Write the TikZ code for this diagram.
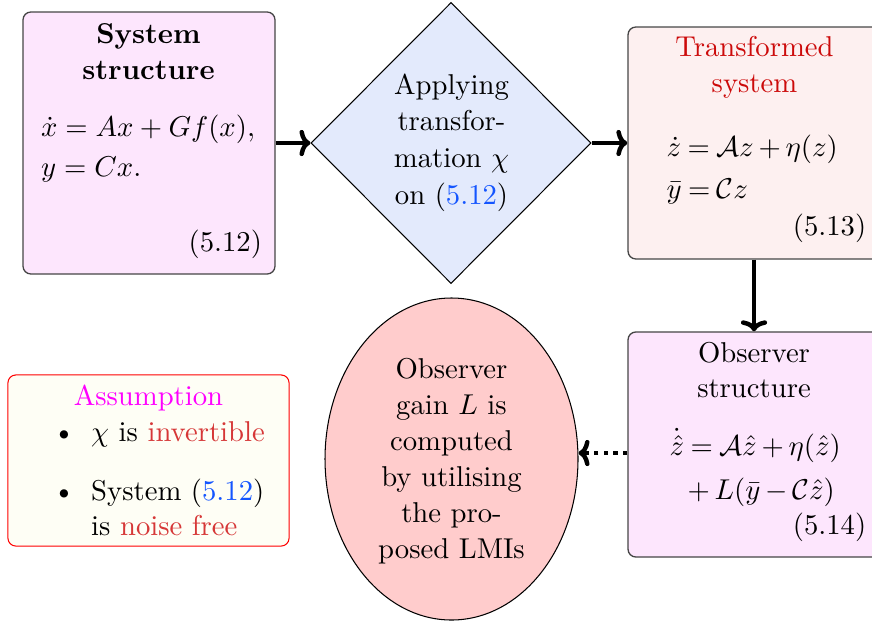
\documentclass[tikz,border=0pt]{standalone}
\usetikzlibrary{shapes.geometric,arrows.meta}
\definecolor{pinkfill}{RGB}{253,230,253}
\definecolor{rosefill}{RGB}{253,240,240}
\definecolor{bluefill}{RGB}{227,234,252}
\definecolor{ellfill}{RGB}{255,204,204}
\definecolor{ivoryfill}{RGB}{254,254,245}
\definecolor{boxline}{RGB}{70,70,70}
\definecolor{titlered}{RGB}{204,10,10}
\definecolor{softred}{RGB}{214,55,55}
\definecolor{linkblue}{RGB}{20,85,255}
\definecolor{assmag}{RGB}{255,0,255}
\newcommand\stk[2]{\begin{tabular}[t]{@{}#1@{}}#2\end{tabular}}
\newcommand\tightmath{\thickmuskip=4mu\relax\medmuskip=3mu\relax}
\begin{document}
\begin{tikzpicture}[x=0.38168pt,y=-0.38168pt,
  every node/.style={inner sep=0pt, font=\fontsize{10.95}{13.7}\selectfont},
  sysbox/.style={draw=boxline, rounded corners=3pt, minimum width=96.18pt, line width=0.5pt},
  lbl/.style={anchor=base},
  tighteq/.style={anchor=base west},
  arr/.style={-{To[length=4.2pt,width=10pt]}, line width=1.7pt}]
\useasboundingbox (0,0) rectangle (872,623);
% shapes
\node[sysbox, fill=pinkfill, minimum height=100pt] (sys) at (149,143) {};
\node[sysbox, fill=rosefill, minimum height=88.55pt] (trf) at (754,143) {};
\node[sysbox, fill=pinkfill, minimum height=85.9pt] (obs) at (754,444.5) {};
\node[diamond, draw, fill=bluefill, minimum width=106.9pt, minimum height=107.25pt, line width=0.4pt] (dia) at (451,143) {};
\node[ellipse, draw, fill=ellfill, minimum width=96.56pt, minimum height=122.9pt, line width=0.4pt] (ell) at (451.5,459) {};
\node[draw=red, fill=ivoryfill, rounded corners=3pt, minimum width=107.3pt, minimum height=65.3pt, line width=0.4pt] (ass) at (148.5,460.5) {};
% system structure
\node[lbl, font=\fontsize{10.95}{13.74}\selectfont\bfseries] (sysT) at (148.5,43) {\stk{c}{System\\structure}};
\node[anchor=base west] (sysE1) at (40.5,136) {$\dot{x} = Ax + Gf(x),$};
\node[anchor=base west] (sysE2) at (40.5,176.5) {$y = Cx.$};
\node[anchor=base east] (sysN) at (262.5,251) {(5.12)};
% diamond
\node[lbl, font=\fontsize{10.95}{14}\selectfont] (diaT) at (451.5,94) {\stk{c}{Applying\\transfor-\\mation $\chi$\\on (\textcolor{linkblue}{5.12})}};
% transformed system
\node[lbl, text=titlered, font=\fontsize{10.95}{14.1}\selectfont] (trfT) at (754.5,56) {\stk{c}{Transformed\\system}};
\node[tighteq] (trfE1) at (666,156) {\tightmath$\dot{z} = \mathcal{A}z + \eta(z)$};
\node[tighteq] (trfE2) at (666,198) {\tightmath$\bar{y} = \mathcal{C}z$};
\node[anchor=base east] (trfN) at (866.7,235.5) {(5.13)};
% observer structure
\node[lbl, font=\fontsize{10.95}{13.4}\selectfont] (obsT) at (754,362) {\stk{c}{Observer\\structure}};
\node[tighteq] (obsE1) at (669,455.5) {\tightmath$\dot{\hat{z}} = \mathcal{A}\hat{z} + \eta(\hat{z})$};
\node[tighteq] (obsE2) at (687,499.5) {\tightmath$+\mskip\medmuskip L(\bar{y} - \mathcal{C}\hat{z})$};
\node[anchor=base east] (obsN) at (866.7,534.5) {(5.14)};
% ellipse
\node[lbl, font=\fontsize{10.95}{13.74}\selectfont] (ellT) at (451.5,378) {\stk{c}{Observer\\gain $L$ is\\computed\\by utilising\\the pro-\\posed LMIs}};
% assumption
\node[lbl, text=assmag] (assT) at (148.5,405) {Assumption};
\node[lbl] (bul1) at (64,441) {\textbullet};
\node[lbl] (bul2) at (64,500) {\textbullet};
\node[anchor=base west] (it1) at (90.7,441) {$\chi$ is \textcolor{softred}{invertible}};
\node[anchor=base west, font=\fontsize{10.95}{13.4}\selectfont] (it2) at (90.7,500) {\stk{l}{System (\textcolor{linkblue}{5.12})\\is \textcolor{softred}{noise free}}};
% connectors
\draw[arr] (sys.east) -- (dia.west);
\draw[arr] (dia.east) -- (trf.west);
\draw[arr] (trf.south) -- (obs.north);
\coordinate (dp) at (628,453);
\draw[arr, dotted] (obs.west |- dp) -- (ell.east |- dp);
\end{tikzpicture}
\end{document}
